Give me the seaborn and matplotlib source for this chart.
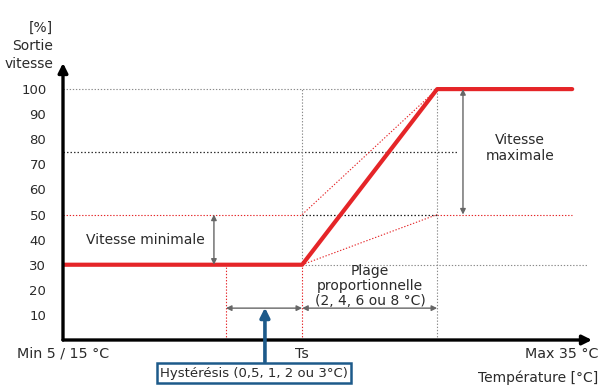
import matplotlib
matplotlib.use('Agg')
import matplotlib.pyplot as plt
import seaborn as sns
import pandas as pd

# Courbe de régulation (x en unités arbitraires le long de l'axe température)
courbe_x = [0.0, 7.97, 12.47, 16.97]
courbe_y = [30, 30, 100, 100]

ts = 7.97
hyst_debut = 5.43
prop_fin = 12.47
x_fin = 16.97

v_min = 30
v_moy = 50
v_max = 100
v_ref = 75

y_ticks = [10, 20, 30, 40, 50, 60, 70, 80, 90, 100]
x_tick_pos = [0.0, ts, 16.63]
x_tick_labels = ['Min 5 / 15 °C', 'Ts', 'Max 35 °C']

sns.set_style('white')
plt.rcParams['font.family'] = ['DejaVu Sans']

fig = plt.figure(figsize=(6.03, 3.91), dpi=100)
ax = fig.add_axes([63 / 603, 51 / 391, 529 / 603, 277 / 391])
ax.set_xlim(0, 17.63)
ax.set_ylim(0, 110.4)
for s in ax.spines.values():
    s.set_visible(False)

rouge = '#e52528'
gris = '#8a8a8a'
texte = '#2a2a2a'
bleu = '#1d5a8a'
dot = (0, (1.2, 1.6))

# lignes pointillées de repère
ax.plot([0, prop_fin], [v_max, v_max], color=gris, lw=0.8, ls=dot)
ax.plot([0, 13.17], [v_ref, v_ref], color='#333333', lw=0.9, ls=dot)
ax.plot([0, ts], [v_moy, v_moy], color=rouge, lw=0.8, ls=dot)
ax.plot([ts, prop_fin], [v_moy, v_moy], color='#222222', lw=0.9, ls=dot)
ax.plot([prop_fin, x_fin], [v_moy, v_moy], color=rouge, lw=0.8, ls=dot)
ax.plot([ts, 17.5], [v_min, v_min], color=gris, lw=0.8, ls=dot)
ax.plot([ts, ts], [v_min, v_max], color=gris, lw=0.8, ls=dot)
ax.plot([ts, ts], [0, v_min], color=rouge, lw=0.8, ls=dot)
ax.plot([hyst_debut, hyst_debut], [0, v_min], color=rouge, lw=0.8, ls=dot)
ax.plot([prop_fin, prop_fin], [0, v_max], color=gris, lw=0.8, ls=dot)
ax.plot([ts, prop_fin], [v_moy, v_max], color=rouge, lw=0.8, ls=dot)
ax.plot([ts, prop_fin], [v_min, v_moy], color=rouge, lw=0.8, ls=dot)

# courbe principale
df = pd.DataFrame({'x': courbe_x, 'y': courbe_y})
sns.lineplot(data=df, x='x', y='y', color=rouge, lw=3, sort=False, ax=ax)
ax.set_xlabel('')
ax.set_ylabel('')

# axes avec flèches
ax.annotate('', xy=(1, 0), xytext=(0, 0), xycoords='axes fraction',
            arrowprops=dict(arrowstyle='-|>', lw=2.4, color='black', mutation_scale=14,
                            shrinkA=0, shrinkB=0))
ax.annotate('', xy=(0, 1), xytext=(0, 0), xycoords='axes fraction',
            arrowprops=dict(arrowstyle='-|>', lw=2.4, color='black', mutation_scale=14,
                            shrinkA=0, shrinkB=0))

# flèches doubles
fl = dict(arrowstyle='<|-|>', lw=1.0, color='#666666', mutation_scale=8, shrinkA=0, shrinkB=0)
ax.annotate('', xy=(5.03, v_moy), xytext=(5.03, v_min), arrowprops=fl)
ax.annotate('', xy=(13.33, v_max), xytext=(13.33, v_moy), arrowprops=fl)
ax.annotate('', xy=(hyst_debut, 12.7), xytext=(ts, 12.7), arrowprops=fl)
ax.annotate('', xy=(ts, 12.7), xytext=(prop_fin, 12.7), arrowprops=fl)

ax.text(2.73, 40, 'Vitesse minimale', ha='center', va='center', fontsize=10, color=texte)
ax.text(15.23, 76.5, 'Vitesse\nmaximale', ha='center', va='center', fontsize=10,
        color=texte, linespacing=1.15)
ax.text(10.23, 21.5, 'Plage\nproportionnelle\n(2, 4, 6 ou 8 °C)', ha='center', va='center',
        fontsize=10, color=texte, linespacing=1.1)

# flèche bleue et encadré hystérésis
ax.annotate('', xy=(6.73, 12.9), xytext=(6.73, -8.8),
            arrowprops=dict(arrowstyle='-|>', lw=2.6, color=bleu, mutation_scale=14,
                            shrinkA=0, shrinkB=0), annotation_clip=False)
fig.text(254 / 603, 1 - 373 / 391, 'Hystérésis (0,5, 1, 2 ou 3°C)', ha='center', va='center',
         fontsize=9.5, color=texte,
         bbox=dict(boxstyle='square,pad=0.25', fc='white', ec=bleu, lw=1.8))

# graduations
ax.set_yticks(y_ticks)
ax.set_yticklabels([str(v) for v in y_ticks], fontsize=9.5, color=texte)
ax.set_xticks(x_tick_pos)
ax.set_xticklabels(x_tick_labels, fontsize=10.3, color=texte)
ax.tick_params(axis='both', length=0)
ax.tick_params(axis='y', pad=12)
ax.tick_params(axis='x', pad=5)

fig.text(53 / 603, 1 - 46 / 391, '[%]\nSortie\nvitesse', ha='right', va='center',
         fontsize=10, color=texte, linespacing=1.35)
fig.text(598 / 603, 1 - 378 / 391, 'Température [°C]', ha='right', va='center',
         fontsize=10, color=texte)

fig.savefig('out.png', dpi=100)
